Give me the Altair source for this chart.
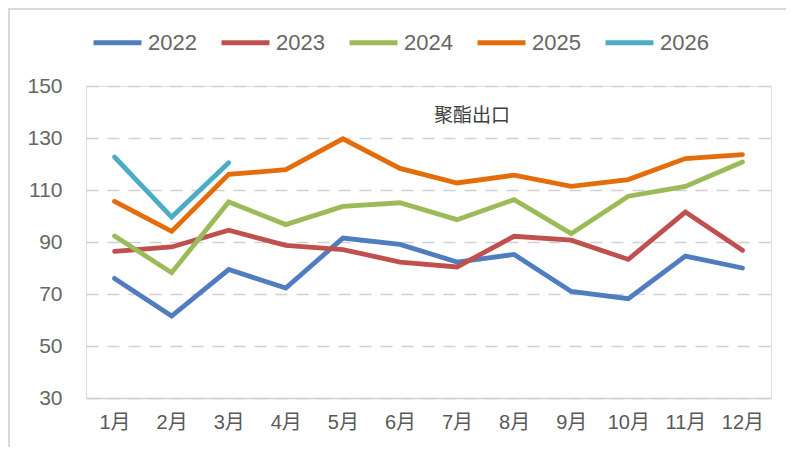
import altair as alt
import pandas as pd

months = ["1月", "2月", "3月", "4月", "5月", "6月", "7月", "8月", "9月", "10月", "11月", "12月"]
years = ["2022", "2023", "2024", "2025", "2026"]
v2022 = [76, 61.5, 79.4, 72.3, 91.5, 89.1, 82.3, 85.2, 71, 68.2, 84.6, 80]
v2023 = [86.4, 88.1, 94.5, 88.7, 87.1, 82.3, 80.4, 92.2, 90.7, 83.3, 101.5, 86.8]
v2024 = [92.3, 78.2, 105.4, 96.7, 103.7, 105.1, 98.6, 106.3, 93.2, 107.6, 111.4, 120.8]
v2025 = [105.6, 94.1, 116, 117.8, 129.7, 118.3, 112.7, 115.7, 111.4, 114, 122.1, 123.6]
v2026 = [122.7, 99.6, 120.5]
colors = ["#4F7DC0", "#C0504D", "#9BBB59", "#E46C0A", "#4BACC6"]
y_ticks = [30, 50, 70, 90, 110, 130, 150]
title_text = ["聚酯出口"]

rows = []
for yr, vals in zip(years, [v2022, v2023, v2024, v2025, v2026]):
    for m, v in zip(months, vals):
        rows.append({"month": m, "year": yr, "value": v})
df = pd.DataFrame(rows)

FONT = "Liberation Sans, Noto Sans CJK SC"
W, H = 685, 312

lines = alt.Chart(df).mark_line(strokeWidth=4.8, strokeCap="round", strokeJoin="miter").encode(
    x=alt.X("month:N", sort=months, title=None,
            axis=alt.Axis(labelAngle=0, labelFontSize=20, labelColor="#595959", labelFont=FONT,
                          ticks=False, domain=True, domainColor="#d0d0d0", domainWidth=1.5,
                          labelPadding=14, grid=False)),
    y=alt.Y("value:Q", title=None,
            scale=alt.Scale(domain=[30, 150], nice=False, zero=False),
            axis=alt.Axis(values=y_ticks, labelFontSize=21, labelColor="#666666", labelFont=FONT,
                          ticks=False, domain=False, labelPadding=24,
                          grid=True, gridColor="#d0d0d0", gridDash=[12, 9], gridWidth=1.5)),
    color=alt.Color("year:N", scale=alt.Scale(domain=years, range=colors), title=None,
                    legend=alt.Legend(orient="none", legendX=5, legendY=-70, direction="horizontal",
                                      symbolType="stroke", symbolSize=2300, symbolStrokeWidth=5,
                                      labelFontSize=22, labelColor="#666666", labelFont=FONT,
                                      labelOffset=4, columnPadding=14, symbolOffset=0)),
    order=alt.Order("year:N"),
)

title_mark = alt.Chart(pd.DataFrame({"t": title_text})).mark_text(
    font="Noto Sans CJK SC", fontSize=19, color="#404040", align="center", baseline="middle"
).encode(text="t:N", x=alt.value(386), y=alt.value(30))

frame_left = alt.Chart(df).mark_rule(color="#d9d9d9", strokeWidth=1.5).encode(
    x=alt.value(-77), y=alt.value(-78), y2=alt.value(H + 49))
frame_top = alt.Chart(df).mark_rule(color="#d9d9d9", strokeWidth=1.5).encode(
    x=alt.value(-78), x2=alt.value(W + 15), y=alt.value(-77))

chart = alt.layer(frame_left, frame_top, lines, title_mark).properties(
    width=W, height=H,
    autosize=alt.AutoSizeParams(type="none"),
    padding={"left": 78, "top": 78, "right": 15, "bottom": 49},
).configure_view(stroke=None).configure(background="white")

chart.save("out.html", embed_options={"renderer": "svg", "actions": False})
